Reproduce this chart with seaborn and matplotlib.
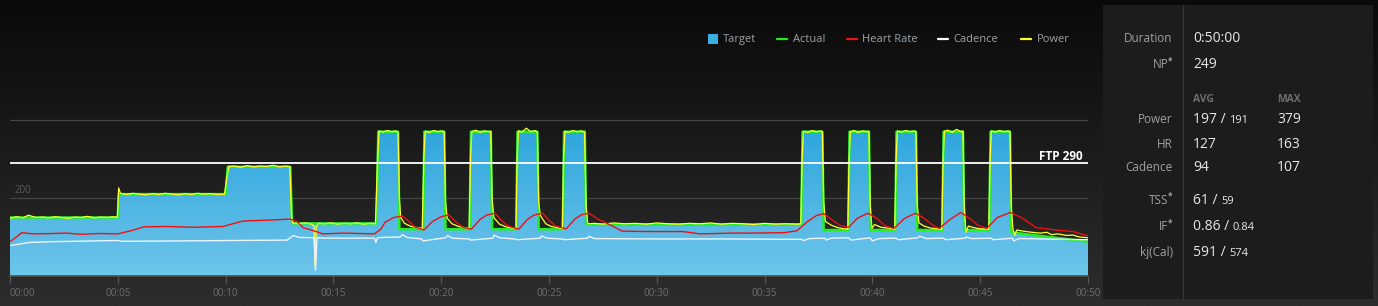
import numpy as np
import pandas as pd
import matplotlib
matplotlib.use("Agg")
import matplotlib.pyplot as plt
import seaborn as sns
from matplotlib.colors import LinearSegmentedColormap
from matplotlib.lines import Line2D
from matplotlib.patches import Rectangle

# ---------------- data (minutes, values) ----------------
target_min = [0, 5.0, 5.05, 10.0, 10.1, 13.0, 13.08, 17.0, 17.08, 18.0, 18.06,
              19.16, 19.22, 20.14, 20.2, 21.32, 21.38, 22.3, 22.36, 23.48, 23.54,
              24.46, 24.52, 25.64, 25.7, 26.66, 26.72, 36.7, 36.76, 37.68, 37.74,
              38.88, 38.94, 39.84, 39.9, 41.06, 41.12, 42.02, 42.08, 43.24, 43.3,
              44.2, 44.26, 45.42, 45.48, 46.38, 46.44, 50.0]
target_watts = [150, 150, 210, 210, 280, 280, 135, 135, 370, 370, 120,
                120, 370, 370, 120, 120, 370, 370, 120, 120, 370,
                370, 120, 120, 370, 370, 132, 132, 370, 370, 118,
                118, 370, 370, 118, 118, 370, 370, 118, 118, 370,
                370, 118, 118, 370, 370, 112, 88]

power_min = [0, 0.3, 0.6, 0.85, 1.2, 1.5, 1.8, 2.1, 2.4, 2.7, 3.0, 3.3, 3.6, 3.9, 4.2, 4.5, 4.8, 4.98,
             5.04, 5.12, 5.4, 5.7, 6.0, 6.3, 6.6, 6.9, 7.2, 7.5, 7.8, 8.1, 8.4, 8.7, 9.0, 9.3, 9.6, 9.95,
             10.05, 10.15, 10.4, 10.7, 11.0, 11.3, 11.6, 11.9, 12.2, 12.5, 12.8, 12.98,
             13.06, 13.12, 13.4, 13.7, 14.0, 14.1, 14.15, 14.2, 14.3, 14.6, 14.9, 15.2, 15.5, 15.8, 16.1, 16.4, 16.7, 16.95,
             17.05, 17.12, 17.3, 17.5, 17.7, 17.9, 18.0, 18.06, 18.12, 18.3, 18.6, 18.9, 19.12,
             19.2, 19.26, 19.45, 19.65, 19.85, 20.05, 20.14, 20.2, 20.28, 20.5, 20.8, 21.1, 21.3,
             21.36, 21.42, 21.6, 21.8, 22.0, 22.2, 22.3, 22.36, 22.44, 22.7, 23.0, 23.3, 23.47,
             23.52, 23.58, 23.75, 23.95, 24.15, 24.35, 24.46, 24.52, 24.6, 24.85, 25.1, 25.4, 25.62,
             25.68, 25.74, 25.9, 26.1, 26.3, 26.5, 26.65, 26.72, 26.8,
             27.1, 27.5, 28.0, 28.5, 29.0, 29.5, 30.0, 30.5, 31.0, 31.5, 32.0, 32.5, 33.0, 33.5, 34.0,
             34.5, 35.0, 35.5, 36.0, 36.5, 36.68,
             36.74, 36.8, 37.0, 37.2, 37.4, 37.6, 37.68, 37.74, 37.82, 38.1, 38.4, 38.7, 38.86,
             38.92, 38.98, 39.15, 39.35, 39.55, 39.75, 39.84, 39.9, 39.98, 40.1, 40.4, 40.7, 41.04,
             41.1, 41.16, 41.35, 41.55, 41.75, 41.95, 42.02, 42.08, 42.16, 42.4, 42.7, 43.0, 43.22,
             43.28, 43.34, 43.5, 43.7, 43.9, 44.1, 44.2, 44.26, 44.34, 44.45, 44.7, 45.0, 45.4,
             45.46, 45.52, 45.7, 45.9, 46.1, 46.3, 46.38, 46.44, 46.52, 46.6, 46.7, 47.0, 47.4,
             47.8, 48.1, 48.3, 48.6, 49.0, 49.3, 49.6, 50.0]
power_watts = [148, 152, 149, 156, 150, 151, 149, 152, 150, 148, 151, 150, 153, 149, 151, 150, 152, 150,
               226, 212, 209, 212, 210, 208, 211, 209, 212, 210, 208, 211, 209, 212, 210, 211, 209, 210,
               250, 281, 282, 279, 283, 280, 282, 281, 284, 280, 282, 280,
               150, 136, 134, 136, 133, 128, 25, 125, 135, 134, 136, 133, 135, 134, 136, 133, 135, 134,
               300, 372, 369, 373, 370, 372, 368, 200, 150, 135, 127, 124, 122,
               310, 371, 368, 373, 370, 372, 369, 190, 148, 134, 127, 124, 122,
               305, 370, 374, 368, 372, 370, 371, 200, 150, 133, 126, 123, 122,
               300, 372, 369, 379, 370, 373, 369, 190, 155, 134, 127, 124, 122,
               310, 371, 368, 373, 370, 372, 369, 180, 134,
               135, 133, 136, 134, 135, 133, 136, 134, 133, 135, 134, 136, 133, 135, 134,
               132, 135, 133, 134, 133, 134,
               300, 371, 368, 373, 370, 372, 370, 190, 140, 130, 124, 121, 120,
               300, 370, 373, 368, 372, 370, 371, 180, 122, 132, 125, 123, 120,
               300, 372, 369, 373, 370, 372, 369, 180, 136, 128, 123, 121, 120,
               300, 371, 374, 368, 376, 370, 372, 180, 112, 128, 124, 121, 120,
               300, 372, 369, 373, 370, 372, 370, 180, 120, 104, 118, 115, 112,
               110, 112, 106, 108, 104, 105, 100, 98]

hr_min = [0, 0.3, 0.55, 1.1, 2.0, 2.6, 3.3, 4.2, 5.0, 5.6, 6.2, 7.3, 8.5, 9.9, 10.4, 10.8,
          11.9, 13.0, 13.3, 13.6, 14.2, 14.5, 15.5, 16.9, 17.2, 17.4, 17.8, 18.2, 18.5, 18.8,
          19.2, 19.6, 20.0, 20.35, 20.7, 21.0, 21.4, 21.8, 22.1, 22.5, 22.8, 23.1, 23.6, 24.0,
          24.3, 24.7, 25.0, 25.3, 25.8, 26.2, 26.5, 26.85, 27.3, 27.8, 28.4, 29.7, 31.2, 32.0,
          33.5, 34.4, 35.9, 36.5, 37.0, 37.4, 37.75, 38.1, 38.5, 38.9, 39.3, 39.8, 40.2, 40.6,
          41.0, 41.5, 42.0, 42.4, 42.8, 43.1, 43.6, 44.1, 44.5, 44.9, 45.3, 45.8, 46.4, 46.9,
          47.6, 48.5, 49.3, 50.0]
hr_bpm = [88, 100, 111, 108, 109, 110, 107, 109, 108, 116, 126, 127, 125, 127, 135, 141,
          143, 146, 140, 124, 114, 108, 110, 108, 120, 138, 150, 154, 140, 125,
          118, 140, 152, 157, 138, 125, 120, 145, 156, 161, 142, 128, 120, 145,
          156, 161, 143, 128, 121, 146, 157, 161, 145, 132, 115, 114, 114, 108,
          110, 110, 111, 116, 140, 155, 160, 145, 130, 125, 148, 161, 148, 128,
          122, 148, 161, 148, 130, 122, 145, 163, 148, 130, 122, 150, 163, 150,
          124, 118, 114, 103]

cad_min = [0, 0.9, 2.0, 4.0, 5.0, 5.2, 8.0, 12.85, 13.15, 13.4, 14.1, 14.17, 14.24, 14.6,
           16.9, 16.97, 17.05, 17.3, 18.1, 18.2, 18.4, 19.1, 19.15, 20.2, 20.3, 20.5, 21.3,
           21.35, 22.4, 22.45, 22.7, 23.4, 23.5, 24.6, 24.65, 24.9, 25.6, 25.7, 26.8, 26.85,
           27.1, 30.0, 33.0, 36.7, 36.8, 37.1, 37.8, 37.85, 38.1, 38.9, 39.0, 39.9, 40.0, 40.3,
           41.1, 41.2, 42.1, 42.2, 42.5, 43.3, 43.4, 44.3, 44.35, 44.6, 45.5, 45.6, 46.5,
           46.55, 46.8, 48.0, 50.0]
cad_rpm = [78, 86, 88, 90, 91, 89, 90, 92, 104, 99, 98, 15, 98, 97,
           97, 86, 98, 99, 100, 106, 99, 95, 90, 98, 104, 97, 95,
           92, 97, 105, 98, 95, 93, 97, 103, 97, 95, 93, 97, 102,
           96, 95, 95, 94, 91, 96, 97, 92, 97, 98, 92, 98, 90, 96,
           97, 93, 98, 102, 96, 97, 93, 97, 100, 96, 97, 93, 97,
           90, 96, 95, 93]

ftp_watts = 290
tick_minutes = list(range(0, 51, 5))
tick_labels = [f"00:{m:02d}" for m in tick_minutes]

legend_names = ["Target", "Actual", "Heart Rate", "Cadence", "Power"]
legend_colors = ["#3aaee2", "#22ee22", "#ee1111", "#ffffff", "#ffff33"]

panel_labels = ["Duration", "NP", "Power", "HR", "Cadence", "TSS", "IF", "kj(Cal)"]
panel_star = [False, True, False, False, False, True, True, False]
panel_avg_big = ["0:50:00", "249", "197 / ", "127", "94", "61 / ", "0.86 / ", "591 / "]
panel_avg_small = ["", "", "191", "", "", "59", "0.84", "574"]
panel_max = ["", "", "379", "163", "107", "", "", ""]
panel_rows_y = [38.3, 65, 120, 144, 167.7, 200.3, 226.7, 252.3]

# ---------------- style ----------------
sns.set_theme(style="dark", rc={"axes.facecolor": "none", "figure.facecolor": "#111111"})
plt.rcParams['font.family'] = ['Open Sans', 'DejaVu Sans']

W, H = 1378, 306
fig = plt.figure(figsize=(W / 100, H / 100), dpi=100)
fx = lambda x: x / W
fy = lambda y: 1 - y / H

# background gradient
bg = fig.add_axes([0, 0, 1, 1], zorder=-10)
bg_cmap = LinearSegmentedColormap.from_list('bg', ['#0a0a0a', '#2d2d2d'])
bg.imshow(np.linspace(0, 1, 256).reshape(-1, 1), aspect='auto', cmap=bg_cmap,
          extent=[0, 1, 0, 1], origin='upper')
bg.set_axis_off()

# main axes
ymax = 420
ax = fig.add_axes([fx(10), 30 / H, 1078 / W, ymax * 0.39 / H])
ax.set_facecolor('none')

# target fill with gradient
poly = ax.fill_between(target_min, target_watts, 0, color='none', lw=0)
fill_cmap = LinearSegmentedColormap.from_list('fill', ['#6fc5ea', '#26a2dc'])
im = ax.imshow(np.linspace(0, 1, 256).reshape(-1, 1), aspect='auto', cmap=fill_cmap,
               extent=[0, 50, 0, ymax], origin='lower', zorder=2)
im.set_clip_path(poly.get_paths()[0], transform=ax.transData)

# lines
sns.lineplot(x=target_min, y=target_watts, ax=ax, color='#22ee22', lw=1.8,
             sort=False, estimator=None, zorder=3)
sns.lineplot(x=power_min, y=power_watts, ax=ax, color='#ffff33', lw=0.9,
             sort=False, estimator=None, zorder=4)
sns.lineplot(x=cad_min, y=cad_rpm, ax=ax, color='#eef4f8', lw=1.0,
             sort=False, estimator=None, zorder=5)
sns.lineplot(x=hr_min, y=hr_bpm, ax=ax, color='#ee1111', lw=1.0,
             sort=False, estimator=None, zorder=6)

ax.axhline(ftp_watts, color='white', lw=1.3, zorder=7)
ax.text(49.77, ftp_watts + 7.5, f"FTP {ftp_watts}", ha='right', va='baseline',
        color='white', fontsize=8.5, fontweight='bold', zorder=8)
ax.text(0.23, 213, "200", ha='left', va='baseline', color='#5c5c5c', fontsize=7)

ax.set_xlim(0, 50)
ax.set_ylim(0, ymax)
ax.set_yticks([200, 400])
ax.grid(axis='y', color='#454545', lw=0.9)
ax.grid(axis='x', visible=False)
ax.set_axisbelow(True)
ax.tick_params(axis='y', length=0, labelleft=False)
ax.set_xticks(tick_minutes)
ax.set_xticklabels(tick_labels)
ax.tick_params(axis='x', length=5, width=1, color='#555555', labelcolor='#6d6d6d',
               labelsize=7.2, pad=3.5, direction='out', bottom=True)
ax.get_xticklabels()[0].set_ha('left')
ax.set_xlabel('')
ax.set_ylabel('')
for s in ['top', 'left', 'right']:
    ax.spines[s].set_visible(False)
ax.spines['bottom'].set_color('#505050')
ax.spines['bottom'].set_linewidth(1.2)

# legend (manual)
leg_handle_x = [708, 777, 847, 938, 1021]
leg_text_x = [723, 793, 862, 953, 1037]
ly = 39.3
for i, name in enumerate(legend_names):
    if i == 0:
        fig.add_artist(Rectangle((fx(708), fy(44)), 10 / W, 10 / H, transform=fig.transFigure,
                                 color=legend_colors[0], lw=0))
    else:
        fig.add_artist(Line2D([fx(leg_handle_x[i]), fx(leg_handle_x[i] + 10)], [fy(ly), fy(ly)],
                              transform=fig.transFigure, color=legend_colors[i], lw=1.6))
    fig.text(fx(leg_text_x[i]), fy(ly), name, ha='left', va='center', color='#9aa2aa', fontsize=8)

# right panel
fig.add_artist(Rectangle((fx(1103), fy(299)), (1373 - 1103) / W, (299 - 5) / H,
                         transform=fig.transFigure, color='#1c1c1c', lw=0, zorder=1))
fig.add_artist(Line2D([fx(1183), fx(1183)], [fy(5), fy(299)], transform=fig.transFigure,
                      color='#353535', lw=1, zorder=2))
fig.text(fx(1193), fy(99), "AVG", ha='left', va='center', color='#6e6e6e', fontsize=7.5,
         fontweight='bold', zorder=3)
fig.text(fx(1277), fy(99), "MAX", ha='left', va='center', color='#6e6e6e', fontsize=7.5,
         fontweight='bold', zorder=3)

fig.canvas.draw()
renderer = fig.canvas.get_renderer()
for i, lab in enumerate(panel_labels):
    y = panel_rows_y[i]
    right = 1168.5 if panel_star[i] else 1172.7
    fig.text(fx(right), fy(y), lab, ha='right', va='center', color='#a0a0a0', fontsize=8.5, zorder=3)
    if panel_star[i]:
        fig.text(fx(1170.5), fy(y - 4), "*", ha='center', va='center', color='#a0a0a0',
                 fontsize=6, fontweight='bold', zorder=3)
    t = fig.text(fx(1193), fy(y), panel_avg_big[i], ha='left', va='center', color='#e8e8e8',
                 fontsize=10, zorder=3)
    if panel_avg_small[i]:
        bb = t.get_window_extent(renderer)
        fig.text(bb.x1 / W, fy(y + 1), panel_avg_small[i], ha='left', va='center',
                 color='#e8e8e8', fontsize=8, zorder=3)
    if panel_max[i]:
        fig.text(fx(1277), fy(y), panel_max[i], ha='left', va='center', color='#e8e8e8',
                 fontsize=10, zorder=3)

fig.savefig("out.png", dpi=100)
